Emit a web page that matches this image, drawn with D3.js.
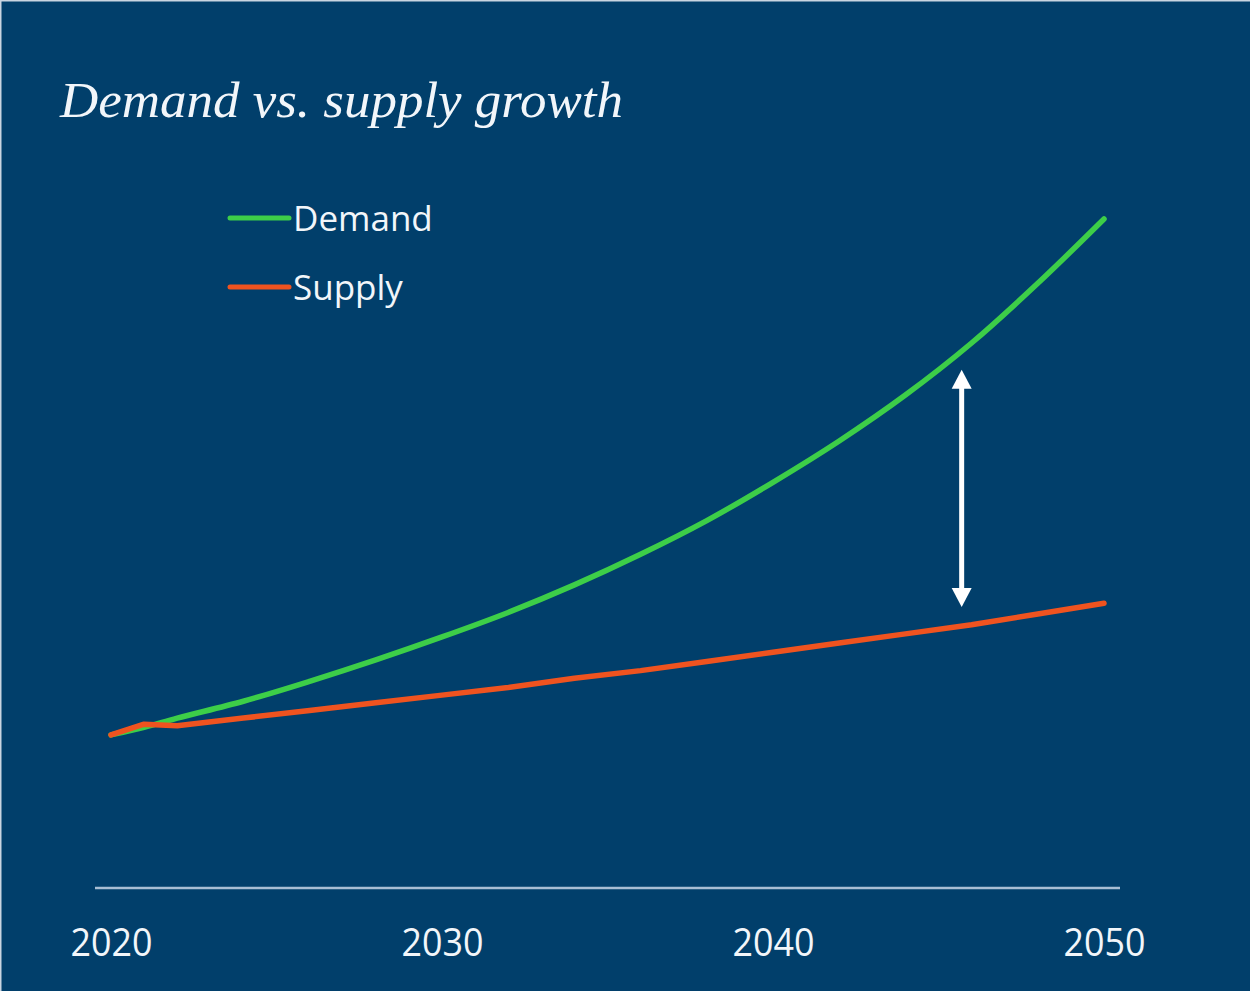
<!DOCTYPE html>
<html>
<head>
<meta charset="utf-8">
<script src="https://cdn.jsdelivr.net/npm/d3@7"></script>
<style>
  html, body { margin: 0; padding: 0; background: #ffffff; }
  svg { display: block; }
</style>
</head>
<body>
<svg id="chart" width="1250" height="991"></svg>
<script>
// Years on the x axis (shared by both series)
const years = [2020, 2021, 2022, 2024, 2026, 2028, 2030, 2032, 2034, 2036, 2038, 2040, 2042, 2044, 2046, 2048, 2050];
// Index values (2020 = 100)
const demand = [100, 105, 111, 122, 135, 149, 164, 180, 198, 218, 240, 265, 292, 322, 356, 395, 437];
const supply = [100, 107, 106, 111, 116, 121, 126, 131, 137, 142, 148, 154, 160, 166, 172, 179, 186];
const tickYears = [2020, 2030, 2040, 2050];
const tickLabels = ["2020", "2030", "2040", "2050"];
const seriesNames = ["Demand", "Supply"];
const gapYear = 2045.7;

const W = 1250, H = 991;
const colors = { bg: "#013f6b", demand: "#3dce48", supply: "#ef531f", axis: "#a8bed4", text: "#f2f6fa" };

const svg = d3.select("#chart");

svg.append("rect").attr("width", W).attr("height", H).attr("fill", colors.bg);
// thin light frame along top and left edges
svg.append("line").attr("x1", 0).attr("x2", W).attr("y1", 0.75).attr("y2", 0.75)
  .attr("stroke", "#c9d5e1").attr("stroke-width", 1.5);
svg.append("line").attr("x1", 0.75).attr("x2", 0.75).attr("y1", 0).attr("y2", H)
  .attr("stroke", "#c9d5e1").attr("stroke-width", 1.5);

const x = d3.scaleLinear().domain([2020, 2050]).range([111, 1104]);
const y = d3.scaleLinear().domain([0, 437]).range([888, 219]);

// Title
svg.append("text")
  .attr("x", 60).attr("y", 117)
  .attr("font-family", "'Liberation Serif', 'Times New Roman', serif")
  .attr("font-style", "italic")
  .attr("font-size", 50)
  .attr("fill", colors.text)
  .attr("textLength", 563)
  .attr("lengthAdjust", "spacingAndGlyphs")
  .text("Demand vs. supply growth");

// Baseline axis
const axis = d3.axisBottom(x)
  .tickValues(tickYears)
  .tickFormat((d, i) => tickLabels[i])
  .tickSize(0)
  .tickPadding(42);

const gAxis = svg.append("g").attr("transform", "translate(0,888)").call(axis);
gAxis.select(".domain").remove();
gAxis.append("line")
  .attr("x1", 95).attr("x2", 1120).attr("y1", 0).attr("y2", 0)
  .attr("stroke", colors.axis).attr("stroke-width", 2.5);
gAxis.selectAll(".tick text")
  .attr("fill", colors.text)
  .attr("font-family", "'Open Sans', sans-serif")
  .attr("font-size", 38)
  .attr("dy", "0.71em")
  .attr("y", 41)
  .attr("textLength", 82)
  .attr("lengthAdjust", "spacingAndGlyphs");

// Series lines
const demandData = years.map((t, i) => ({ t, v: demand[i] }));
const supplyData = years.map((t, i) => ({ t, v: supply[i] }));

const smoothLine = d3.line().x(d => x(d.t)).y(d => y(d.v)).curve(d3.curveCatmullRom.alpha(0.5));
const straightLine = d3.line().x(d => x(d.t)).y(d => y(d.v)).curve(d3.curveLinear);

svg.append("path").datum(demandData)
  .attr("d", smoothLine)
  .attr("fill", "none").attr("stroke", colors.demand)
  .attr("stroke-width", 5.5).attr("stroke-linecap", "round").attr("stroke-linejoin", "round");

svg.append("path").datum(supplyData)
  .attr("d", straightLine)
  .attr("fill", "none").attr("stroke", colors.supply)
  .attr("stroke-width", 5.5).attr("stroke-linecap", "round").attr("stroke-linejoin", "round");

// Gap arrow between the two series
const interp = (arr, t) => {
  const i = d3.bisectRight(years, t) - 1;
  const t0 = years[i], t1 = years[i + 1];
  return arr[i] + (arr[i + 1] - arr[i]) * (t - t0) / (t1 - t0);
};
const ax = x(gapYear);
const yTop = y(interp(demand, gapYear)) + 19;
const yBot = y(interp(supply, gapYear)) - 19;
const headLen = 19, headHalf = 10;
svg.append("line")
  .attr("x1", ax).attr("x2", ax).attr("y1", yTop + headLen - 1).attr("y2", yBot - headLen + 1)
  .attr("stroke", "#ffffff").attr("stroke-width", 5);
svg.append("path")
  .attr("d", `M${ax},${yTop} L${ax + headHalf},${yTop + headLen} L${ax - headHalf},${yTop + headLen} Z`)
  .attr("fill", "#ffffff");
svg.append("path")
  .attr("d", `M${ax},${yBot} L${ax + headHalf},${yBot - headLen} L${ax - headHalf},${yBot - headLen} Z`)
  .attr("fill", "#ffffff");

// Legend
const legend = svg.append("g");
const legendColors = [colors.demand, colors.supply];
const legendY = [218, 287];
seriesNames.forEach((name, i) => {
  legend.append("line")
    .attr("x1", 230).attr("x2", 289).attr("y1", legendY[i]).attr("y2", legendY[i])
    .attr("stroke", legendColors[i]).attr("stroke-width", 5).attr("stroke-linecap", "round");
  legend.append("text")
    .attr("x", 293).attr("y", legendY[i] + 13)
    .attr("font-family", "'Open Sans', sans-serif")
    .attr("font-size", 35)
    .attr("fill", colors.text)
    .text(name);
});
</script>
</body>
</html>
